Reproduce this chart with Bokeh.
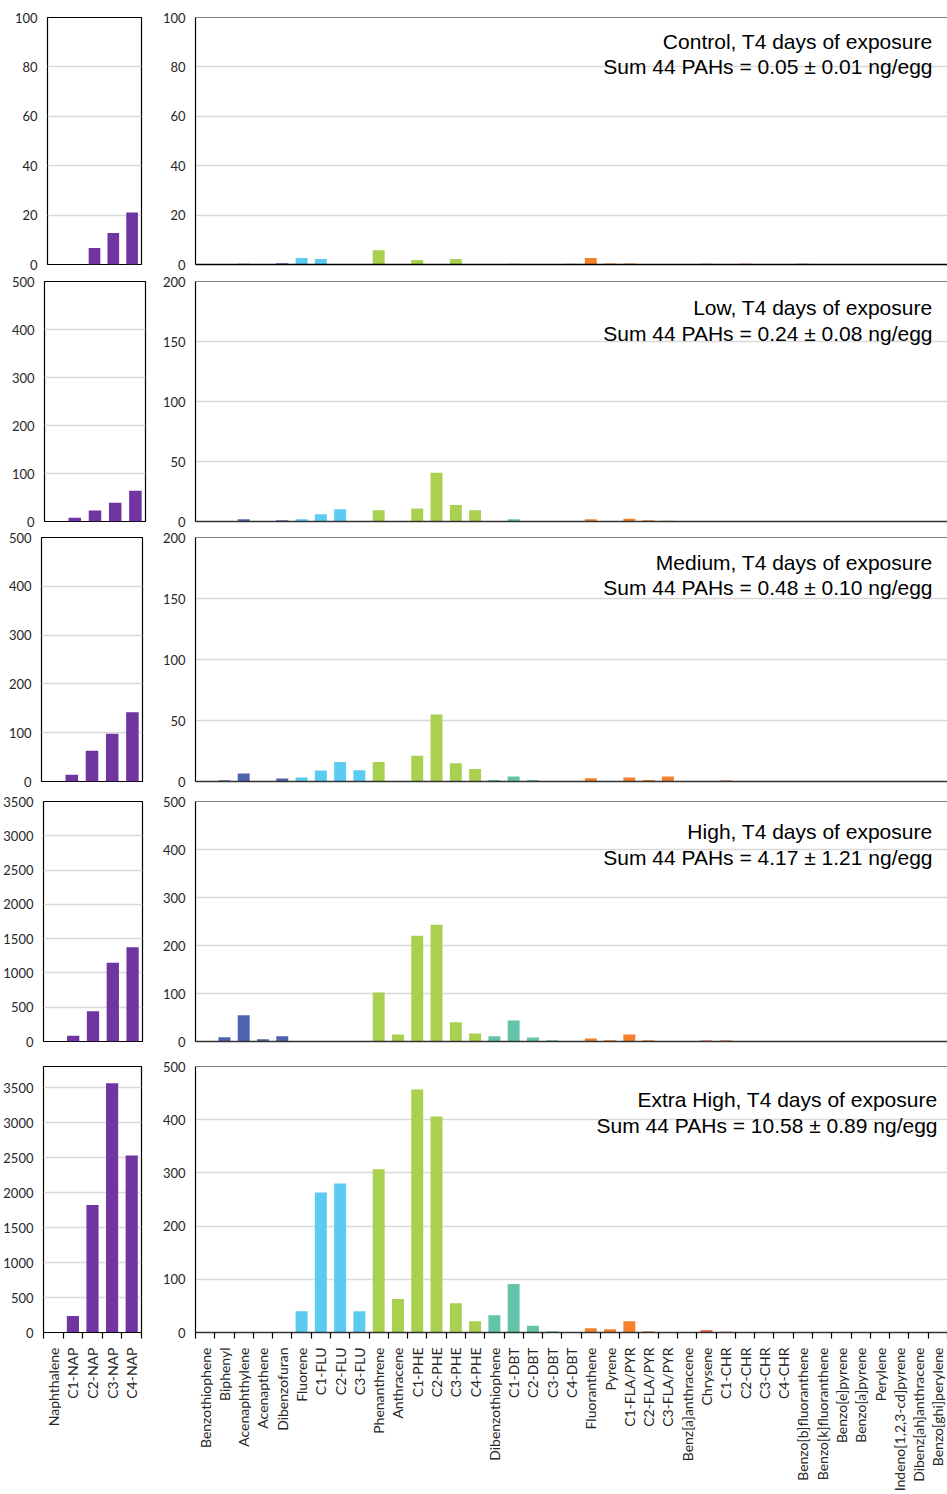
import math
from bokeh.plotting import figure
from bokeh.layouts import column, row
from bokeh.models import ColumnDataSource, FixedTicker, Range1d, Label, Span
from bokeh.embed import file_html
from bokeh.resources import INLINE

# ---------------- data ----------------
nap_labels = ["Naphthalene", "C1-NAP", "C2-NAP", "C3-NAP", "C4-NAP"]
pah_labels = ["Benzothiophene", "Biphenyl", "Acenaphthylene", "Acenapthene", "Dibenzofuran",
              "Fluorene", "C1-FLU", "C2-FLU", "C3-FLU",
              "Phenanthrene", "Anthracene", "C1-PHE", "C2-PHE", "C3-PHE", "C4-PHE",
              "Dibenzothiophene", "C1-DBT", "C2-DBT", "C3-DBT", "C4-DBT",
              "Fluoranthene", "Pyrene", "C1-FLA/PYR", "C2-FLA/PYR", "C3-FLA/PYR",
              "Benz[a]anthracene", "Chrysene", "C1-CHR", "C2-CHR", "C3-CHR", "C4-CHR",
              "Benzo[b]fluoranthene", "Benzo[k]fluoranthene", "Benzo[e]pyrene", "Benzo[a]pyrene",
              "Perylene", "Indeno[1,2,3-cd]pyrene", "Dibenz[ah]anthracene", "Benzo[ghi]perylene"]
pah_groups = (["2ring"] * 5 + ["FLU"] * 4 + ["PHE"] * 6 + ["DBT"] * 5 +
              ["FLA"] * 5 + ["CHR"] * 6 + ["HMW"] * 8)

treatments = ["Control", "Low", "Medium", "High", "Extra High"]
sum_means = ["0.05", "0.24", "0.48", "4.17", "10.58"]
sum_sds = ["0.01", "0.08", "0.10", "1.21", "0.89"]

control_nap = [0, 0, 6.7, 12.8, 21.1]
low_nap = [0, 8, 23, 39, 64]
medium_nap = [0, 14, 63, 98, 142]
high_nap = [0, 85, 440, 1150, 1375]
extra_high_nap = [0, 237, 1820, 3560, 2530]

control_pah = [0, 0, 0.3, 0, 0.5, 2.6, 2.2, 0, 0, 5.8, 0, 1.8, 0, 2.2, 0,
               0, 0.3, 0, 0.2, 0.3, 2.6, 0.4, 0.4, 0, 0, 0, 0.3, 0, 0.3, 0, 0,
               0.3, 0, 0, 0, 0, 0, 0, 0]
low_pah = [0, 0.3, 1.9, 0, 1.1, 1.9, 6.1, 10.2, 0, 9.4, 0, 10.8, 40.7, 13.8, 9.4,
           0.5, 1.9, 0.5, 0.4, 0.4, 1.9, 0.4, 2.2, 1.1, 0.6, 0.3, 0.5, 0.5, 0.3, 0, 0,
           0.2, 0.2, 0.2, 0, 0, 0, 0, 0]
medium_pah = [0, 1.1, 6.5, 0.3, 2.4, 3.3, 9.0, 16.0, 9.2, 16.0, 0, 21.2, 55.0, 14.9, 10.3,
              1.3, 4.1, 1.3, 0.4, 0.5, 2.7, 0.5, 3.3, 1.3, 4.1, 0.3, 0.4, 0.8, 0.3, 0, 0,
              0.3, 0.3, 0.3, 0, 0, 0, 0, 0.3]
high_pah = [0, 9, 54.5, 4.8, 11, 0, 0, 0, 0, 102, 14.5, 220.5, 243, 40, 16.6,
            11, 43.6, 8.3, 2.7, 1, 6.2, 2.7, 14.5, 2.7, 1, 0.5, 2, 2, 0, 0, 0,
            0, 0, 0, 0, 0, 0, 0, 0]
extra_high_pah = [0, 0, 0, 0, 0, 40, 263, 280, 40, 307, 63, 457, 406, 55, 21,
                  32.6, 91, 12.5, 2.5, 1, 8, 6, 21, 2.5, 0.5, 0, 4.4, 1.5, 0, 0, 0,
                  0, 0, 0, 0, 0, 0, 0, 0]

nap_series = [control_nap, low_nap, medium_nap, high_nap, extra_high_nap]
pah_series = [control_pah, low_pah, medium_pah, high_pah, extra_high_pah]

left_ymax = [100, 500, 500, 3500, 3800]
left_step = [20, 100, 100, 500, 500]
right_ymax = [100, 200, 200, 500, 500]
right_step = [20, 50, 50, 100, 100]

# ---------------- styles / layout ----------------
NAP_COLOR = "#7035A0"
GROUP_COLORS = {"2ring": "#4E64AE", "FLU": "#5BCBF2", "PHE": "#A9D04E", "DBT": "#63C4AA",
                "FLA": "#F5822A", "CHR": "#E8503A", "HMW": "#4A6496"}
TICK_FONT = "Lato"
TITLE_FONT = "Liberation Sans"
TXT = "#262626"
GRID = "#D9D9D9"

row_heights = [273, 256, 263, 264, 438]
# (left, right, top, bottom) min borders
left_borders = [(47, 12, 17, 9), (44, 8, 8, 7), (41, 11, 8, 9), (41, 11, 9, 8), (38, 12, 7, 161)]
right_borders = [(42, 0, 17, 9), (42, 0, 8, 8), (42, 0, 7, 11), (42, 0, 9, 15), (42, 0, 10, 160)]
title_offsets = [(24, 49), (26, 52), (25, 50), (30, 56), (33, 59)]
title_right_px = [15, 15, 15, 15, 10]
LEFT_W = 153
RIGHT_W = 794


def style_y(p, ymax, step):
    ticks = list(range(0, ymax + 1, step))
    p.yaxis.ticker = FixedTicker(ticks=ticks)
    p.ygrid.ticker = FixedTicker(ticks=ticks)
    p.ygrid.grid_line_color = GRID
    p.ygrid.grid_line_width = 1.3
    p.xgrid.visible = False
    p.yaxis.major_tick_line_color = None
    p.yaxis.minor_tick_line_color = None
    p.yaxis.major_tick_out = 0
    p.yaxis.major_tick_in = 0
    p.yaxis.major_label_standoff = 10
    p.yaxis.major_label_text_font = TICK_FONT
    p.yaxis.major_label_text_font_size = "13px"
    p.yaxis.major_label_text_color = TXT


def style_x(p, n, labels, show):
    if show:
        p.xaxis.ticker = FixedTicker(ticks=list(range(n)),
                                     minor_ticks=[i - 0.5 for i in range(n + 1)])
        p.xaxis.major_label_overrides = {i: labels[i] for i in range(n)}
        p.xaxis.major_tick_line_color = None
        p.xaxis.major_tick_out = 0
        p.xaxis.major_tick_in = 0
        p.xaxis.minor_tick_line_color = "black"
        p.xaxis.minor_tick_out = 6
        p.xaxis.minor_tick_in = 0
        p.xaxis.minor_tick_line_width = 1.2
        p.xaxis.major_label_orientation = math.pi / 2
        p.xaxis.major_label_standoff = 9
        p.xaxis.major_label_text_font = TICK_FONT
        p.xaxis.major_label_text_font_size = "14px"
        p.xaxis.major_label_text_color = TXT
    else:
        p.xaxis.ticker = FixedTicker(ticks=[])
        p.xaxis.major_tick_line_color = None
        p.xaxis.minor_tick_line_color = None


rows = []
for r in range(5):
    last = r == 4
    # ----- left panel (naphthalenes) -----
    bl, br, bt, bb = left_borders[r]
    pl = figure(width=LEFT_W, height=row_heights[r], x_range=Range1d(-0.5, 4.5),
                y_range=Range1d(0, left_ymax[r]), output_backend="svg", toolbar_location=None,
                min_border_left=bl, min_border_right=br, min_border_top=bt, min_border_bottom=bb)
    src_l = ColumnDataSource(dict(x=list(range(5)), top=nap_series[r], name=nap_labels))
    pl.vbar(x="x", top="top", width=0.62, source=src_l, fill_color=NAP_COLOR, line_color=None)
    pl.outline_line_color = "black"
    pl.outline_line_width = 1.2
    pl.outline_line_alpha = 1
    style_y(pl, left_ymax[r], left_step[r])
    pl.yaxis.axis_line_color = None
    if last:
        style_x(pl, 5, nap_labels, True)
        pl.xaxis.axis_line_color = "black"
        pl.xaxis.axis_line_width = 1.2
    else:
        pl.xaxis.visible = False
    pl.background_fill_color = "white"
    pl.border_fill_color = "white"

    # ----- right panel (other PAHs) -----
    bl, br, bt, bb = right_borders[r]
    n = len(pah_labels)
    pr = figure(width=RIGHT_W, height=row_heights[r], x_range=Range1d(-0.5, n - 0.5),
                y_range=Range1d(0, right_ymax[r]), output_backend="svg", toolbar_location=None,
                min_border_left=bl, min_border_right=br, min_border_top=bt, min_border_bottom=bb)
    src_r = ColumnDataSource(dict(x=list(range(n)), top=pah_series[r], name=pah_labels,
                                  color=[GROUP_COLORS[g] for g in pah_groups]))
    pr.vbar(x="x", top="top", width=0.62, source=src_r, fill_color="color", line_color=None)
    pr.outline_line_color = None
    style_y(pr, right_ymax[r], right_step[r])
    pr.yaxis.axis_line_color = "black"
    pr.yaxis.axis_line_width = 1.2
    style_x(pr, n, pah_labels, last)
    pr.xaxis.axis_line_color = "black" if r == 0 else "#333333"
    pr.xaxis.axis_line_width = 1.5
    pr.add_layout(Span(location=right_ymax[r], dimension="width", line_color="black",
                       line_width=1.2))
    pr.background_fill_color = "white"
    pr.border_fill_color = "white"

    frame_w = RIGHT_W - bl - br
    frame_h = row_heights[r] - bt - bb
    px_per_unit_x = frame_w / n
    x_right = (n - 0.5) - title_right_px[r] / px_per_unit_x
    o1, o2 = title_offsets[r]
    for off, txt in ((o1, f"{treatments[r]}, T4 days of exposure"),
                     (o2, f"Sum 44 PAHs = {sum_means[r]} \u00b1 {sum_sds[r]} ng/egg")):
        yv = right_ymax[r] * (1 - off / frame_h)
        pr.add_layout(Label(x=x_right, y=yv, text=txt, text_align="right",
                            text_baseline="middle", text_font=TITLE_FONT,
                            text_font_size="21px", text_color="black"))
    rows.append(row(pl, pr))

layout = column(*rows, spacing=0)
open("out.html", "w").write(file_html(layout, INLINE))
